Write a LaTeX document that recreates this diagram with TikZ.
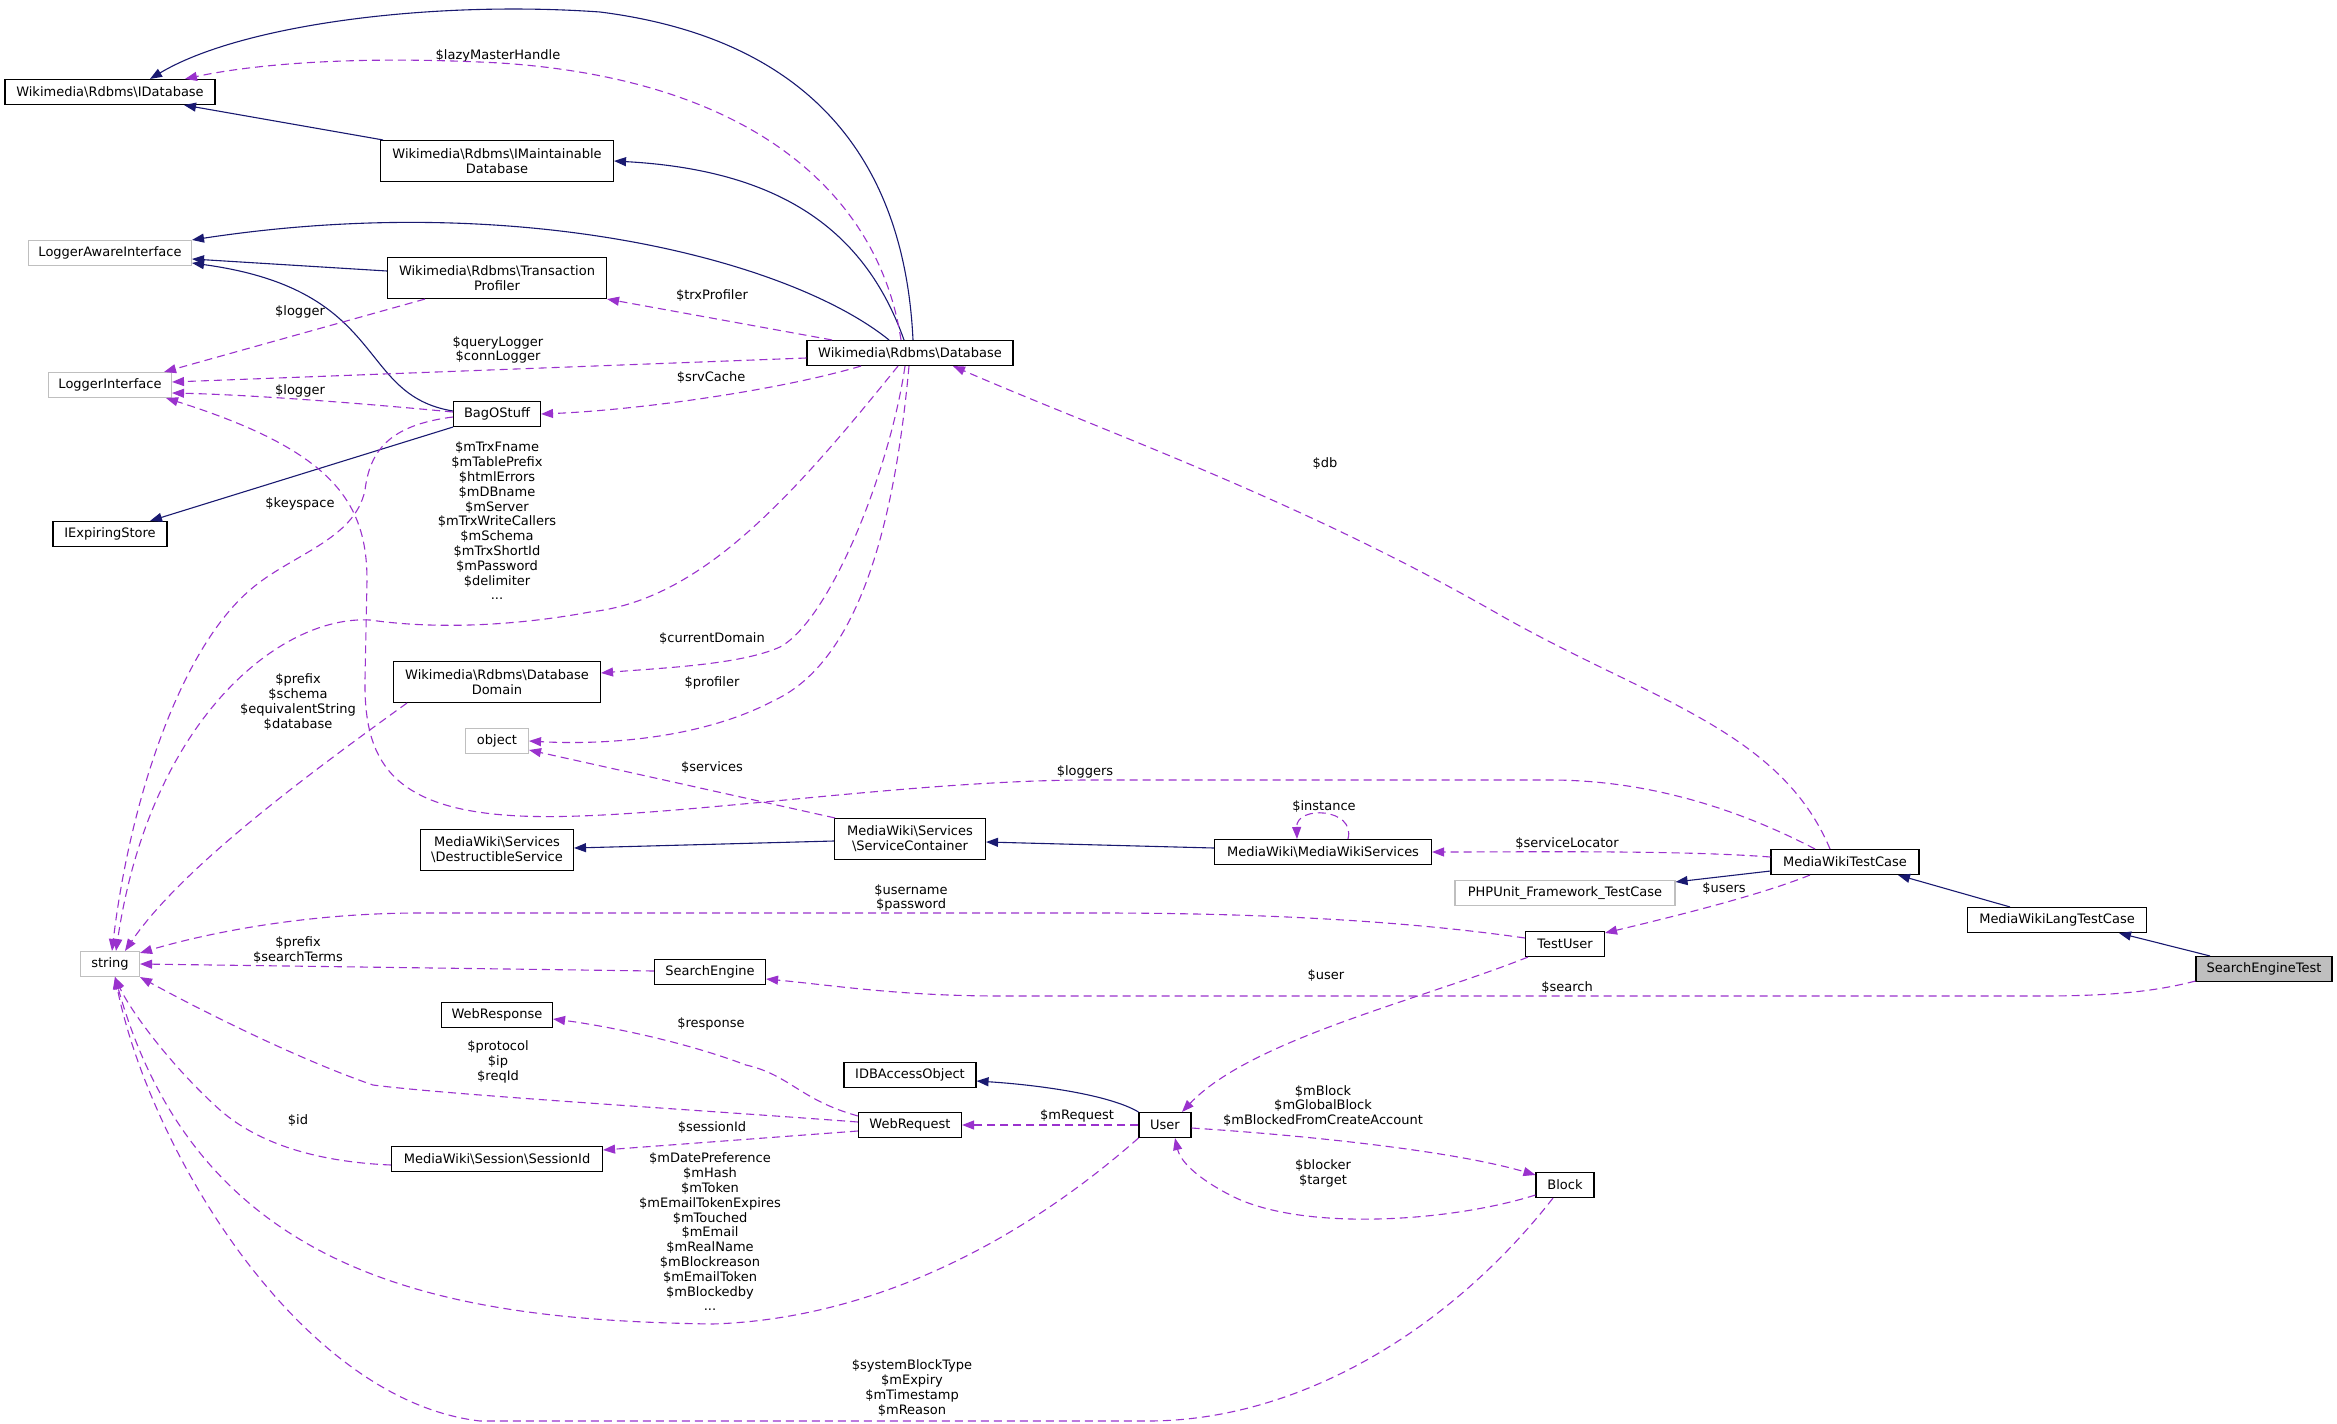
\documentclass[tikz,border=0pt]{standalone}
\usepackage{fontspec}
\setmainfont{DejaVu Sans}
\usetikzlibrary{positioning,arrows.meta}
\definecolor{inhblue}{HTML}{191970}
\definecolor{usepurple}{HTML}{9A32CD}
\definecolor{extgray}{HTML}{BFBFBF}
\newcommand{\bsl}{\textbackslash}

\begin{document}
\begin{tikzpicture}[
    x=1pt, y=-1pt,
    box/.style={draw, line width=1.1pt, fill=white, inner sep=0pt, minimum height=25pt, align=center, font=\fontsize{13}{15}\selectfont},
    twobox/.style={box, minimum height=41pt},
    extbox/.style={box, draw=extgray},
    mainbox/.style={box, fill=extgray},
    lbl/.style={inner sep=0pt, align=center, font=\fontsize{13}{14.8}\selectfont},
    inh/.style={inhblue, line width=1.1pt, -{Triangle[length=12pt,width=9pt]}},
    uses/.style={usepurple, line width=1.1pt, dash pattern=on 8pt off 5pt, -{Triangle[length=12pt,width=9pt]}}
]
\useasboundingbox (0,0) rectangle (2337,1424);

\node[box, minimum width=210pt] (idb) at (110,92) {Wikimedia\bsl Rdbms\bsl IDatabase};
\node[twobox, minimum width=233pt] (imaint) at (497,161) {Wikimedia\bsl Rdbms\bsl IMaintainable\\Database};
\node[extbox, minimum width=163pt] (lai) at (110,253) {LoggerAwareInterface};
\node[twobox, minimum width=219pt] (trx) at (497,278) {Wikimedia\bsl Rdbms\bsl Transaction\\Profiler};
\node[extbox, minimum width=123pt] (li) at (110,385) {LoggerInterface};
\node[box, minimum width=87pt] (bag) at (497,414) {BagOStuff};
\node[box, minimum width=206pt] (db) at (910,353) {Wikimedia\bsl Rdbms\bsl Database};
\node[box, minimum width=114pt] (exp) at (110,534) {IExpiringStore};
\node[twobox, minimum width=207pt] (dom) at (497,682) {Wikimedia\bsl Rdbms\bsl Database\\Domain};
\node[extbox, minimum width=63pt] (obj) at (497,741) {object};
\node[twobox, minimum width=153pt] (destr) at (497,850) {MediaWiki\bsl Services\\\bsl DestructibleService};
\node[twobox, minimum width=151pt] (scont) at (910,839) {MediaWiki\bsl Services\\\bsl ServiceContainer};
\node[box, minimum width=217pt] (mws) at (1323,852) {MediaWiki\bsl MediaWikiServices};
\node[box, minimum width=148pt] (mwtc) at (1845,862) {MediaWikiTestCase};
\node[extbox, minimum width=220pt] (phpu) at (1565,893) {PHPUnit\_Framework\_TestCase};
\node[box, minimum width=79pt] (tuser) at (1565,944) {TestUser};
\node[box, minimum width=179pt] (mwltc) at (2057,920) {MediaWikiLangTestCase};
\node[mainbox, minimum width=136pt] (set) at (2264,969) {SearchEngineTest};
\node[extbox, minimum width=59pt] (str) at (110,964) {string};
\node[box, minimum width=111pt] (seng) at (710,972) {SearchEngine};
\node[box, minimum width=111pt] (wresp) at (497,1015) {WebResponse};
\node[box, minimum width=211pt] (sid) at (497,1159) {MediaWiki\bsl Session\bsl SessionId};
\node[box, minimum width=132pt] (idbao) at (910,1075) {IDBAccessObject};
\node[box, minimum width=103pt] (wreq) at (910,1125) {WebRequest};
\node[box, minimum width=52pt] (user) at (1165,1125) {User};
\node[box, minimum width=58pt] (block) at (1565,1185) {Block};

\node[lbl] (lazy) at (498,56) {\$lazyMasterHandle};
\node[lbl] (trxp) at (712,296) {\$trxProfiler};
\node[lbl] (logtrx) at (300,312) {\$logger};
\node[lbl] (qlog) at (498,350) {\$queryLogger\\\$connLogger};
\node[lbl] (logbag) at (300,391) {\$logger};
\node[lbl] (srvc) at (711,378) {\$srvCache};
\node[lbl] (keysp) at (300,504) {\$keyspace};
\node[lbl] (dbvars) at (497,521) {\$mTrxFname\\\$mTablePrefix\\\$htmlErrors\\\$mDBname\\\$mServer\\\$mTrxWriteCallers\\\$mSchema\\\$mTrxShortId\\\$mPassword\\\$delimiter\\...};
\node[lbl] (curdom) at (712,639) {\$currentDomain};
\node[lbl] (prof) at (712,683) {\$profiler};
\node[lbl] (domvars) at (298,702) {\$prefix\\\$schema\\\$equivalentString\\\$database};
\node[lbl] (serv) at (712,768) {\$services};
\node[lbl] (loggers) at (1085,772) {\$loggers};
\node[lbl] (inst) at (1324,807) {\$instance};
\node[lbl] (dbl) at (1325,464) {\$db};
\node[lbl] (sloc) at (1567,844) {\$serviceLocator};
\node[lbl] (usersl) at (1724,889) {\$users};
\node[lbl] (upass) at (911,898) {\$username\\\$password};
\node[lbl] (sterms) at (298,950) {\$prefix\\\$searchTerms};
\node[lbl] (userl) at (1326,976) {\$user};
\node[lbl] (searchl) at (1567,988) {\$search};
\node[lbl] (resp) at (711,1024) {\$response};
\node[lbl] (proto) at (498,1062) {\$protocol\\\$ip\\\$reqId};
\node[lbl] (mreq) at (1077,1116) {\$mRequest};
\node[lbl] (sessl) at (712,1128) {\$sessionId};
\node[lbl] (idl) at (298,1121) {\$id};
\node[lbl] (mblock) at (1323,1106) {\$mBlock\\\$mGlobalBlock\\\$mBlockedFromCreateAccount};
\node[lbl] (blocker) at (1323,1173) {\$blocker\\\$target};
\node[lbl] (uservars) at (710,1232) {\$mDatePreference\\\$mHash\\\$mToken\\\$mEmailTokenExpires\\\$mTouched\\\$mEmail\\\$mRealName\\\$mBlockreason\\\$mEmailToken\\\$mBlockedby\\...};
\node[lbl] (blockvars) at (912,1388) {\$systemBlockType\\\$mExpiry\\\$mTimestamp\\\$mReason};

\draw[inh] ([xshift=3]db.north) .. controls (905,170) and (820,40) .. (600,12) .. controls (430,0) and (240,25) .. ([xshift=40]idb.north);
\draw[inh] ([xshift=-114]imaint.north) -- ([xshift=74]idb.south);
\draw[inh] ([xshift=-6]db.north) .. controls (865,230) and (780,170) .. (imaint.east);
\draw[inh] ([xshift=-21]db.north) .. controls (790,260) and (520,190) .. (lai.north east);
\draw[inh] ([yshift=7]trx.west) -- ([yshift=-6]lai.east);
\draw[inh] ([yshift=3]bag.west) .. controls (355,395) and (390,290) .. ([yshift=-10]lai.east);
\draw[inh] (bag.south west) -- ([xshift=40]exp.north);
\draw[inh] ([yshift=-2]scont.west) -- ([yshift=2]destr.east);
\draw[inh] ([yshift=4]mws.west) -- ([yshift=-3]scont.east);
\draw[inh] ([yshift=-9]mwtc.west) -- ([yshift=-2]phpu.north east);
\draw[inh] ([xshift=-47]mwltc.north) -- ([xshift=53]mwtc.south);
\draw[inh] ([xshift=-54]set.north) -- ([xshift=62]mwltc.south);
\draw[inh] (user.north west) .. controls (1110,1095) and (1040,1085) .. ([yshift=-6]idbao.east);

\draw[uses] ([xshift=-9]db.north) .. controls (880,200) and (760,80) .. (500,63) .. controls (350,55) and (250,65) .. ([xshift=75]idb.north);
\draw[uses] ([xshift=-78]db.north) -- (trx.south east);
\draw[uses] ([xshift=-72]trx.south) -- ([xshift=-8]li.north east);
\draw[uses] ([yshift=-5]db.west) -- ([yshift=3]li.east);
\draw[uses] ([yshift=2]bag.west) .. controls (380,405) and (260,395) .. ([yshift=-8]li.east);
\draw[uses] ([xshift=-49]db.south) .. controls (780,390) and (640,410) .. (bag.east);
\draw[uses] ([xshift=-30]mwtc.north) .. controls (1740,810) and (1650,780) .. (1550,780) -- (1090,780) .. controls (900,780) and (650,822) .. (520,816) .. controls (390,810) and (364,760) .. (365,680) -- (367,580) .. controls (367,500) and (330,450) .. ([xshift=56]li.south);
\draw[uses] ([xshift=-12]db.south) .. controls (790,500) and (700,600) .. (590,612) .. controls (520,625) and (440,630) .. (370,620) .. controls (280,615) and (150,720) .. ([xshift=6]str.north);
\draw[uses] ([yshift=-3]bag.west) .. controls (390,425) and (370,450) .. (365,490) .. controls (355,540) and (290,555) .. (250,590) .. controls (180,650) and (130,800) .. ([xshift=2]str.north);
\draw[uses] ([xshift=-5]db.south) .. controls (890,470) and (830,620) .. (780,647) .. controls (740,665) and (660,668) .. ([yshift=9]dom.east);
\draw[uses] ([xshift=-1]db.south) .. controls (895,520) and (860,660) .. (775,700) .. controls (700,740) and (600,745) .. (obj.east);
\draw[uses] ([xshift=-75]scont.north) -- ([yshift=-9]obj.east);
\draw[uses] ([xshift=-90]dom.south) .. controls (300,780) and (180,870) .. ([xshift=15]str.north);
\draw[uses] ([xshift=-15]mwtc.north) .. controls (1780,730) and (1650,700) .. (1500,615) .. controls (1300,500) and (1100,430) .. ([xshift=43]db.south);
\draw[uses] ([yshift=5]mwtc.west) .. controls (1680,850) and (1520,852) .. (mws.east);
\draw[uses] ([xshift=25]mws.north) .. controls (1356,808) and (1296,805) .. ([xshift=-26]mws.north);
\draw[uses] ([xshift=-35]mwtc.south) .. controls (1760,895) and (1680,915) .. ([yshift=-2]tuser.north east);
\draw[uses] ([yshift=6]tuser.west) .. controls (1400,920) and (1250,913) .. (1100,913) -- (420,913) .. controls (300,913) and (200,935) .. ([yshift=-2]str.north east);
\draw[uses] ([yshift=1]seng.west) -- (str.east);
\draw[uses] ([yshift=-12]set.west) .. controls (2150,993) and (2100,996) .. (2040,996) -- (1000,996) .. controls (900,996) and (830,985) .. ([yshift=-7]seng.east);
\draw[uses] ([xshift=-37]tuser.south) .. controls (1420,1000) and (1250,1040) .. ([xshift=17]user.north);
\draw[uses] ([yshift=-4]wreq.north west) .. controls (800,1100) and (790,1075) .. (746,1065) .. controls (680,1040) and (600,1025) .. ([yshift=-4]wresp.east);
\draw[uses] ([yshift=3]wreq.west) .. controls (700,1110) and (450,1095) .. (373,1085) .. controls (300,1060) and (200,1010) .. (str.south east);
\draw[uses] ([yshift=-6]wreq.west) -- ([yshift=9]sid.east);
\draw[uses] ([yshift=-6]sid.west) .. controls (320,1162) and (260,1145) .. (220,1110) .. controls (170,1065) and (130,1010) .. ([xshift=5]str.south);
\draw[uses] (user.south west) .. controls (1000,1260) and (850,1320) .. (712,1324) .. controls (450,1320) and (200,1280) .. ([xshift=5]str.south);
\draw[uses] (user.west) -- (wreq.east);
\draw[uses] ([yshift=-3]user.east) .. controls (1300,1135) and (1450,1150) .. ([yshift=-3]block.north west);
\draw[uses] ([yshift=-10]block.west) .. controls (1450,1222) and (1300,1232) .. (1230,1195) .. controls (1195,1177) and (1180,1160) .. ([xshift=10]user.south);
\draw[uses] ([xshift=-12]block.south) .. controls (1450,1330) and (1300,1420) .. (1150,1421) -- (480,1421) .. controls (300,1400) and (150,1150) .. ([xshift=5]str.south);
\end{tikzpicture}
\end{document}
